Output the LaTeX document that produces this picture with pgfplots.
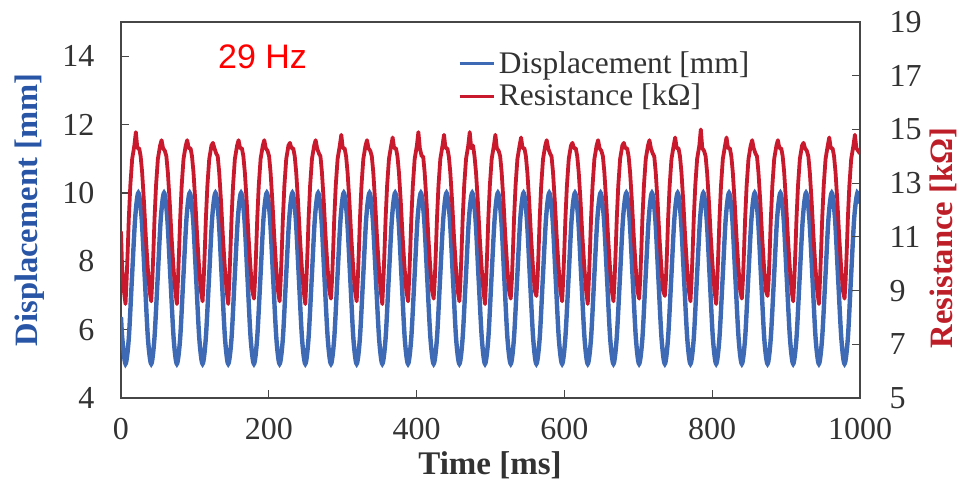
\documentclass[border=0pt]{standalone}
\usepackage{pgfplots}
\pgfplotsset{compat=1.18}
\usepackage{fontspec}
\setmainfont{Liberation Serif}
\newfontfamily\sansf{Liberation Sans}
\definecolor{dispblue}{RGB}{62,105,180}
\definecolor{resred}{RGB}{200,25,45}
\definecolor{lblblue}{RGB}{40,85,165}
\definecolor{lblred}{RGB}{190,30,40}
\definecolor{ticklab}{RGB}{50,50,50}
\definecolor{axisgray}{RGB}{70,70,70}
\begin{document}
\begin{tikzpicture}
\path[use as bounding box] (-60.5pt,-42.5pt) rectangle (425pt,199pt);
\begin{axis}[
  at={(0pt,0pt)}, anchor=south west,
  scale only axis, width=369.5pt, height=188pt,
  xmin=0, xmax=1000, ymin=4, ymax=15,
  xtick={0,200,...,1000}, ytick={4,6,...,14},
  xtick pos=bottom, ytick pos=left, tick align=inside,
  major tick length=4pt,
  axis line style={draw=axisgray, line width=1pt},
  tick style={draw=axisgray, line width=0.6pt},
  /pgf/number format/assume math mode=true,
  /pgf/number format/1000 sep={},
  ticklabel style={font=\fontsize{16}{18}\selectfont, text=ticklab},
  yticklabel style={xshift=-9.8pt},
  xticklabel style={yshift=-6.8pt},
  xlabel={Time [ms]},
  xlabel style={at={(axis description cs:0.4993,-0.178)}, anchor=center, font=\fontsize{16.5}{18}\selectfont\bfseries, text=ticklab},
  ylabel={Displacement [mm]},
  ylabel style={at={(axis description cs:-0.1231,0.5)}, anchor=center, font=\fontsize{16.3}{18}\selectfont\bfseries, text=lblblue},
]
\addplot[dispblue, line width=2.2pt, smooth] coordinates {
(0,6.37) (1.8,5.73)
(6.1,5) (10.5,5.73) (14.8,7.5) (19.2,9.27) (23.5,10) (27.9,9.27) (32.2,7.5) (36.5,5.73)
(40.9,5) (45.2,5.73) (49.6,7.5) (53.9,9.27) (58.3,10) (62.6,9.27) (66.9,7.5) (71.3,5.73)
(75.6,5) (80.0,5.73) (84.3,7.5) (88.7,9.27) (93.0,10) (97.4,9.27) (101.7,7.5) (106.0,5.73)
(110.4,5) (114.7,5.73) (119.1,7.5) (123.4,9.27) (127.8,10) (132.1,9.27) (136.4,7.5) (140.8,5.73)
(145.1,5) (149.5,5.73) (153.8,7.5) (158.2,9.27) (162.5,10) (166.9,9.27) (171.2,7.5) (175.5,5.73)
(179.9,5) (184.2,5.73) (188.6,7.5) (192.9,9.27) (197.3,10) (201.6,9.27) (205.9,7.5) (210.3,5.73)
(214.6,5) (219.0,5.73) (223.3,7.5) (227.7,9.27) (232.0,10) (236.4,9.27) (240.7,7.5) (245.0,5.73)
(249.4,5) (253.7,5.73) (258.1,7.5) (262.4,9.27) (266.8,10) (271.1,9.27) (275.4,7.5) (279.8,5.73)
(284.1,5) (288.5,5.73) (292.8,7.5) (297.2,9.27) (301.5,10) (305.9,9.27) (310.2,7.5) (314.5,5.73)
(318.9,5) (323.2,5.73) (327.6,7.5) (331.9,9.27) (336.3,10) (340.6,9.27) (344.9,7.5) (349.3,5.73)
(353.6,5) (358.0,5.73) (362.3,7.5) (366.7,9.27) (371.0,10) (375.4,9.27) (379.7,7.5) (384.0,5.73)
(388.4,5) (392.7,5.73) (397.1,7.5) (401.4,9.27) (405.8,10) (410.1,9.27) (414.4,7.5) (418.8,5.73)
(423.1,5) (427.5,5.73) (431.8,7.5) (436.2,9.27) (440.5,10) (444.9,9.27) (449.2,7.5) (453.5,5.73)
(457.9,5) (462.2,5.73) (466.6,7.5) (470.9,9.27) (475.3,10) (479.6,9.27) (483.9,7.5) (488.3,5.73)
(492.6,5) (497.0,5.73) (501.3,7.5) (505.7,9.27) (510.0,10) (514.4,9.27) (518.7,7.5) (523.0,5.73)
(527.4,5) (531.7,5.73) (536.1,7.5) (540.4,9.27) (544.8,10) (549.1,9.27) (553.4,7.5) (557.8,5.73)
(562.1,5) (566.5,5.73) (570.8,7.5) (575.2,9.27) (579.5,10) (583.9,9.27) (588.2,7.5) (592.5,5.73)
(596.9,5) (601.2,5.73) (605.6,7.5) (609.9,9.27) (614.3,10) (618.6,9.27) (622.9,7.5) (627.3,5.73)
(631.6,5) (636.0,5.73) (640.3,7.5) (644.7,9.27) (649.0,10) (653.4,9.27) (657.7,7.5) (662.0,5.73)
(666.4,5) (670.7,5.73) (675.1,7.5) (679.4,9.27) (683.8,10) (688.1,9.27) (692.4,7.5) (696.8,5.73)
(701.1,5) (705.5,5.73) (709.8,7.5) (714.2,9.27) (718.5,10) (722.9,9.27) (727.2,7.5) (731.5,5.73)
(735.9,5) (740.2,5.73) (744.6,7.5) (748.9,9.27) (753.3,10) (757.6,9.27) (761.9,7.5) (766.3,5.73)
(770.6,5) (775.0,5.73) (779.3,7.5) (783.7,9.27) (788.0,10) (792.4,9.27) (796.7,7.5) (801.0,5.73)
(805.4,5) (809.7,5.73) (814.1,7.5) (818.4,9.27) (822.8,10) (827.1,9.27) (831.4,7.5) (835.8,5.73)
(840.1,5) (844.5,5.73) (848.8,7.5) (853.2,9.27) (857.5,10) (861.9,9.27) (866.2,7.5) (870.5,5.73)
(874.9,5) (879.2,5.73) (883.6,7.5) (887.9,9.27) (892.3,10) (896.6,9.27) (900.9,7.5) (905.3,5.73)
(909.6,5) (914.0,5.73) (918.3,7.5) (922.7,9.27) (927.0,10) (931.4,9.27) (935.7,7.5) (940.0,5.73)
(944.4,5) (948.7,5.73) (953.1,7.5) (957.4,9.27) (961.8,10) (966.1,9.27) (970.4,7.5) (974.8,5.73)
(979.1,5) (983.5,5.73) (987.8,7.5) (992.2,9.27) (996.5,10) (1000,9.69)
};
\node[anchor=west, inner sep=0pt, font=\sansf\fontsize{17}{20}\selectfont, text=red] at (axis description cs:0.131,0.907) {29 Hz};
\end{axis}
\begin{axis}[
  at={(0pt,0pt)}, anchor=south west,
  scale only axis, width=369.5pt, height=188pt,
  xmin=0, xmax=1000, ymin=5, ymax=19,
  axis x line=none, axis y line*=right,
  ytick={5,7,...,19}, tick align=inside,
  major tick length=4pt,
  axis line style={draw=axisgray, line width=1pt, -},
  tick style={draw=axisgray, line width=0.6pt},
  /pgf/number format/assume math mode=true,
  ticklabel style={font=\fontsize{16}{18}\selectfont, text=ticklab},
  yticklabel style={xshift=11.3pt},
  ylabel={Resistance [kΩ]},
  ylabel style={at={(axis description cs:1.1123,0.4255)}, anchor=center, rotate=0, font=\fontsize{16.3}{18}\selectfont\bfseries, text=lblred},
  legend style={at={(axis description cs:0.456,0.934)}, anchor=north west, draw=none, fill=none, font=\fontsize{15.7}{17}\selectfont, text=ticklab, row sep=0pt, inner sep=0pt, cells={anchor=west}},
  legend image code/.code={\draw[#1] (0pt,0pt) -- (17pt,0pt);},
]
\addlegendimage{dispblue, line width=1.3pt}
\addlegendentry{Displacement [mm]}
\addplot[resred, line width=1.9pt, line join=round, forget plot] coordinates {
(0,11.2) (1.4,9.9) (3.9,9.0)
(6.1,8.5) (7.6,9.4) (9.1,10.5) (10.6,11.7) (12.6,12.9) (15.1,13.9) (18.1,14.4) (20.1,14.9) (22.1,14.3) (24.6,14.3) (26.6,14.0) (28.6,13.4) (31.1,12.3) (33.6,11.0) (36.1,9.9) (38.6,9.0)
(40.9,8.6) (42.4,9.4) (43.9,10.5) (45.4,11.7) (47.4,12.9) (49.9,13.9) (52.9,14.4) (54.9,14.6) (56.9,14.3) (59.4,14.2) (61.4,14.0) (63.4,13.4) (65.9,12.3) (68.4,11.0) (70.9,9.9) (73.4,9.0)
(75.6,8.5) (77.1,9.4) (78.6,10.5) (80.1,11.7) (82.1,12.9) (84.6,13.9) (87.6,14.4) (89.6,14.6) (91.6,14.3) (94.1,14.3) (96.1,14.0) (98.1,13.4) (100.6,12.3) (103.1,11.0) (105.6,9.9) (108.1,9.0)
(110.4,8.6) (111.9,9.4) (113.4,10.5) (114.9,11.7) (116.9,12.9) (119.4,13.9) (122.4,14.4) (124.4,14.5) (126.4,14.3) (128.9,14.1) (130.9,14.0) (132.9,13.4) (135.4,12.3) (137.9,11.0) (140.4,9.9) (142.9,9.0)
(145.1,8.5) (146.6,9.4) (148.1,10.5) (149.6,11.7) (151.6,12.9) (154.1,13.9) (157.1,14.4) (159.1,14.6) (161.1,14.3) (163.6,14.3) (165.6,14.0) (167.6,13.4) (170.1,12.3) (172.6,11.0) (175.1,9.9) (177.6,9.0)
(179.9,8.7) (181.4,9.4) (182.9,10.5) (184.4,11.7) (186.4,12.9) (188.9,13.9) (191.9,14.4) (193.9,14.6) (195.9,14.3) (198.4,14.2) (200.4,14.0) (202.4,13.4) (204.9,12.3) (207.4,11.0) (209.9,9.9) (212.4,9.0)
(214.6,8.6) (216.1,9.4) (217.6,10.5) (219.1,11.7) (221.1,12.9) (223.6,13.9) (226.6,14.4) (228.6,14.5) (230.6,14.3) (233.1,14.3) (235.1,14.0) (237.1,13.4) (239.6,12.3) (242.1,11.0) (244.6,9.9) (247.1,9.0)
(249.4,8.5) (250.9,9.4) (252.4,10.5) (253.9,11.7) (255.9,12.9) (258.4,13.9) (261.4,14.4) (263.4,14.6) (265.4,14.3) (267.9,14.1) (269.9,14.0) (271.9,13.4) (274.4,12.3) (276.9,11.0) (279.4,9.9) (281.9,9.0)
(284.1,8.7) (285.6,9.4) (287.1,10.5) (288.6,11.7) (290.6,12.9) (293.1,13.9) (296.1,14.4) (298.1,14.8) (300.1,14.3) (302.6,14.3) (304.6,14.0) (306.6,13.4) (309.1,12.3) (311.6,11.0) (314.1,9.9) (316.6,9.0)
(318.9,8.6) (320.4,9.4) (321.9,10.5) (323.4,11.7) (325.4,12.9) (327.9,13.9) (330.9,14.4) (332.9,14.6) (334.9,14.3) (337.4,14.2) (339.4,14.0) (341.4,13.4) (343.9,12.3) (346.4,11.0) (348.9,9.9) (351.4,9.0)
(353.6,8.5) (355.1,9.4) (356.6,10.5) (358.1,11.7) (360.1,12.9) (362.6,13.9) (365.6,14.4) (367.6,14.7) (369.6,14.3) (372.1,14.3) (374.1,14.0) (376.1,13.4) (378.6,12.3) (381.1,11.0) (383.6,9.9) (386.1,9.0)
(388.4,8.6) (389.9,9.4) (391.4,10.5) (392.9,11.7) (394.9,12.9) (397.4,13.9) (400.4,14.4) (402.4,14.9) (404.4,14.3) (406.9,14.0) (408.9,14.0) (410.9,13.4) (413.4,12.3) (415.9,11.0) (418.4,9.9) (420.9,9.0)
(423.1,8.7) (424.6,9.4) (426.1,10.5) (427.6,11.7) (429.6,12.9) (432.1,13.9) (435.1,14.4) (437.1,14.8) (439.1,14.3) (441.6,14.3) (443.6,14.0) (445.6,13.4) (448.1,12.3) (450.6,11.0) (453.1,9.9) (455.6,9.0)
(457.9,8.6) (459.4,9.4) (460.9,10.5) (462.4,11.7) (464.4,12.9) (466.9,13.9) (469.9,14.4) (471.9,14.9) (473.9,14.3) (476.4,14.4) (478.4,14.0) (480.4,13.4) (482.9,12.3) (485.4,11.0) (487.9,9.9) (490.4,9.0)
(492.6,8.5) (494.1,9.4) (495.6,10.5) (497.1,11.7) (499.1,12.9) (501.6,13.9) (504.6,14.4) (506.6,14.8) (508.6,14.3) (511.1,14.2) (513.1,14.0) (515.1,13.4) (517.6,12.3) (520.1,11.0) (522.6,9.9) (525.1,9.0)
(527.4,8.7) (528.9,9.4) (530.4,10.5) (531.9,11.7) (533.9,12.9) (536.4,13.9) (539.4,14.4) (541.4,14.7) (543.4,14.3) (545.9,14.3) (547.9,14.0) (549.9,13.4) (552.4,12.3) (554.9,11.0) (557.4,9.9) (559.9,9.0)
(562.1,8.8) (563.6,9.4) (565.1,10.5) (566.6,11.7) (568.6,12.9) (571.1,13.9) (574.1,14.4) (576.1,14.6) (578.1,14.3) (580.6,14.1) (582.6,14.0) (584.6,13.4) (587.1,12.3) (589.6,11.0) (592.1,9.9) (594.6,9.0)
(596.9,8.6) (598.4,9.4) (599.9,10.5) (601.4,11.7) (603.4,12.9) (605.9,13.9) (608.9,14.4) (610.9,14.5) (612.9,14.3) (615.4,14.3) (617.4,14.0) (619.4,13.4) (621.9,12.3) (624.4,11.0) (626.9,9.9) (629.4,9.0)
(631.6,8.5) (633.1,9.4) (634.6,10.5) (636.1,11.7) (638.1,12.9) (640.6,13.9) (643.6,14.4) (645.6,14.6) (647.6,14.3) (650.1,14.2) (652.1,14.0) (654.1,13.4) (656.6,12.3) (659.1,11.0) (661.6,9.9) (664.1,9.0)
(666.4,8.6) (667.9,9.4) (669.4,10.5) (670.9,11.7) (672.9,12.9) (675.4,13.9) (678.4,14.4) (680.4,14.5) (682.4,14.3) (684.9,14.3) (686.9,14.0) (688.9,13.4) (691.4,12.3) (693.9,11.0) (696.4,9.9) (698.9,9.0)
(701.1,8.7) (702.6,9.4) (704.1,10.5) (705.6,11.7) (707.6,12.9) (710.1,13.9) (713.1,14.4) (715.1,14.6) (717.1,14.3) (719.6,14.1) (721.6,14.0) (723.6,13.4) (726.1,12.3) (728.6,11.0) (731.1,9.9) (733.6,9.0)
(735.9,8.8) (737.4,9.4) (738.9,10.5) (740.4,11.7) (742.4,12.9) (744.9,13.9) (747.9,14.4) (749.9,14.7) (751.9,14.3) (754.4,14.3) (756.4,14.0) (758.4,13.4) (760.9,12.3) (763.4,11.0) (765.9,9.9) (768.4,9.0)
(770.6,8.6) (772.1,9.4) (773.6,10.5) (775.1,11.7) (777.1,12.9) (779.6,13.9) (782.6,14.4) (784.6,15.0) (786.6,14.3) (789.1,14.2) (791.1,14.0) (793.1,13.4) (795.6,12.3) (798.1,11.0) (800.6,9.9) (803.1,9.0)
(805.4,8.5) (806.9,9.4) (808.4,10.5) (809.9,11.7) (811.9,12.9) (814.4,13.9) (817.4,14.4) (819.4,14.7) (821.4,14.3) (823.9,14.3) (825.9,14.0) (827.9,13.4) (830.4,12.3) (832.9,11.0) (835.4,9.9) (837.9,9.0)
(840.1,8.7) (841.6,9.4) (843.1,10.5) (844.6,11.7) (846.6,12.9) (849.1,13.9) (852.1,14.4) (854.1,14.6) (856.1,14.3) (858.6,14.1) (860.6,14.0) (862.6,13.4) (865.1,12.3) (867.6,11.0) (870.1,9.9) (872.6,9.0)
(874.9,8.8) (876.4,9.4) (877.9,10.5) (879.4,11.7) (881.4,12.9) (883.9,13.9) (886.9,14.4) (888.9,14.6) (890.9,14.3) (893.4,14.3) (895.4,14.0) (897.4,13.4) (899.9,12.3) (902.4,11.0) (904.9,9.9) (907.4,9.0)
(909.6,8.6) (911.1,9.4) (912.6,10.5) (914.1,11.7) (916.1,12.9) (918.6,13.9) (921.6,14.4) (923.6,14.5) (925.6,14.3) (928.1,14.2) (930.1,14.0) (932.1,13.4) (934.6,12.3) (937.1,11.0) (939.6,9.9) (942.1,9.0)
(944.4,8.5) (945.9,9.4) (947.4,10.5) (948.9,11.7) (950.9,12.9) (953.4,13.9) (956.4,14.4) (958.4,14.7) (960.4,14.3) (962.9,14.3) (964.9,14.0) (966.9,13.4) (969.4,12.3) (971.9,11.0) (974.4,9.9) (976.9,9.0)
(979.1,8.7) (980.6,9.4) (982.1,10.5) (983.6,11.7) (985.6,12.9) (988.1,13.9) (991.1,14.4) (993.1,14.8) (995.1,14.3) (997.6,14.2) (1000,14.1)
};
\addlegendimage{resred, line width=1.3pt}
\addlegendentry{Resistance [kΩ]}
\end{axis}
\end{tikzpicture}
\end{document}
